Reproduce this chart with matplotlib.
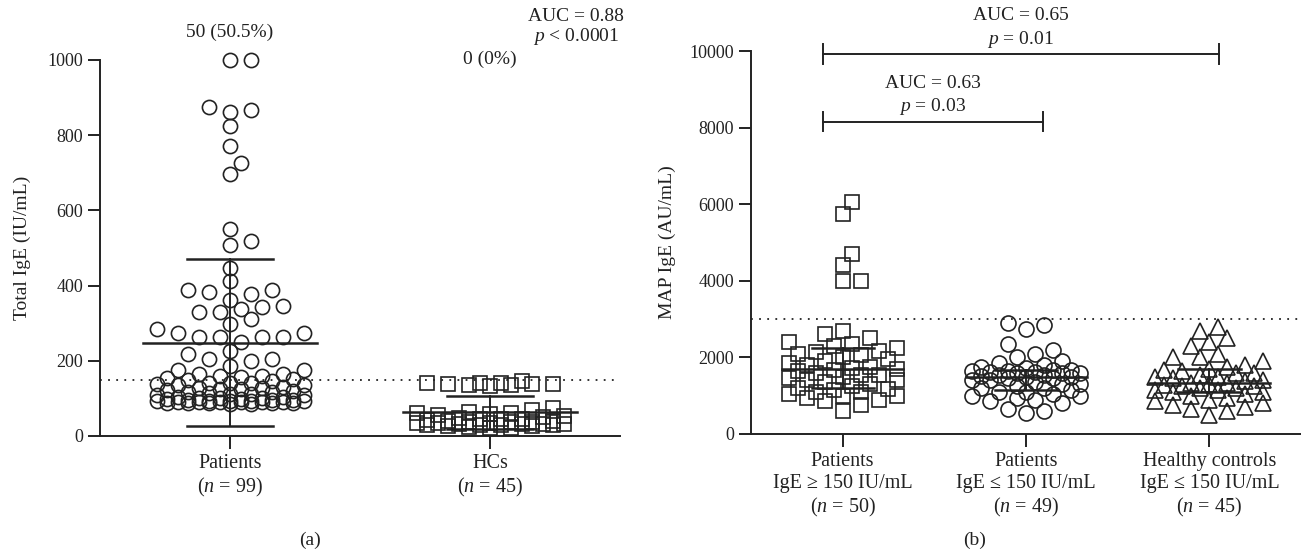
import numpy as np
import matplotlib.pyplot as plt

plt.rcParams['font.family'] = ['Liberation Serif', 'DejaVu Serif']
plt.rcParams['mathtext.fontset'] = 'custom'
plt.rcParams['mathtext.rm'] = 'Liberation Serif'
plt.rcParams['mathtext.it'] = 'Liberation Serif:italic'

INK = '#222222'

# (a) Total IgE, IU/mL
patients_ige = [1000, 1000, 875, 868, 862, 825, 772, 727, 697, 551, 519, 508,
                447, 411, 387, 387, 383, 378, 362, 347, 343, 338, 329, 329,
                311, 298, 285, 274, 274, 263, 263, 263, 263, 251, 227, 218,
                205, 205, 200, 187, 176, 176, 165, 165, 160, 160, 158, 155,
                152, 150,
                140, 138, 142, 135, 136, 145, 141,
                130, 128, 125, 122, 127, 124, 120,
                118, 115, 112, 110, 108, 113, 116, 105,
                102, 100, 98, 97, 99, 101, 96, 95, 103,
                94, 93, 92, 91, 90, 90, 89, 88, 92, 91, 87, 86, 85, 93, 90, 88,
                89, 91]
hcs_ige = [140, 138, 135, 142, 147, 136, 133, 139, 137, 141,
           75, 70, 65, 62, 60, 58, 55, 52, 50, 48, 46, 45, 44, 42, 40, 40,
           38, 37, 36, 35, 35, 34, 33, 32, 32, 31, 30, 30, 29, 28, 27, 26,
           25, 22, 20]
labels_a = ['Patients\n($n$ = 99)', 'HCs\n($n$ = 45)']
counts_a = ['50 (50.5%)', '0 (0%)']
cutoff_a = 150

# (b) MAP IgE, AU/mL
map_high = [6050, 5750, 4700, 4400, 4000, 4000,
            600, 750, 850, 900, 950, 1000, 1000, 1050, 1100, 1100, 1150, 1180,
            1200, 1250, 1300, 1350, 1400, 1400, 1450, 1500, 1550, 1550, 1600,
            1650, 1680,
            1700, 1720, 1750, 1800, 1850, 1900, 1950, 2000, 2050, 2100, 2150,
            2180,
            2250, 2300, 2350, 2400, 2500, 2600, 2700]
map_low = [550, 600, 650, 800, 850, 900, 950, 1000, 1000, 1050, 1100, 1100,
           1150, 1200, 1200, 1250, 1300, 1300, 1350, 1400, 1400, 1450, 1450,
           1480, 1500,
           1520, 1550, 1550, 1580, 1600, 1600, 1620, 1620, 1650, 1650, 1670,
           1680,
           1720, 1750, 1800, 1850, 1900, 2000, 2100, 2200, 2350, 2750, 2850,
           2900]
map_hc = [500, 600, 650, 700, 750, 800, 850, 900, 950, 1000, 1050,
          1100, 1100, 1150, 1150, 1200, 1200, 1250, 1250, 1280, 1300, 1320,
          1340,
          1380, 1400, 1450, 1500, 1500, 1550, 1600, 1600, 1650, 1680, 1700,
          1750, 1800, 1900, 2000, 2000, 2100, 2300, 2400, 2500, 2700, 2800]
labels_b = ['Patients\nIgE ≥ 150 IU/mL\n($n$ = 50)',
            'Patients\nIgE ≤ 150 IU/mL\n($n$ = 49)',
            'Healthy controls\nIgE ≤ 150 IU/mL\n($n$ = 45)']
cutoff_b = 3000


def swarm(values, ypx, xpx, step, diam, maxw):
    # simple beeswarm in pixel space, returns x offsets in data units
    vals = np.asarray(values, float)
    cands = [0.0]
    k = 1
    while k * step <= maxw:
        cands += [k * step, -k * step]
        k += 1
    placed = []
    off = np.zeros(len(vals))
    for i in np.argsort(vals):
        y = vals[i] * ypx
        best, best_d = 0.0, -1
        for c in cands:
            d = min((np.hypot(c - px, y - py) for px, py in placed), default=1e9)
            if d >= diam:
                best = c
                break
            if d > best_d:
                best_d, best = d, c
        off[i] = best
        placed.append((best, y))
    return off / xpx


def style(ax):
    for s in ['top', 'right']:
        ax.spines[s].set_visible(False)
    for s in ['left', 'bottom']:
        ax.spines[s].set_linewidth(1.4)
        ax.spines[s].set_color(INK)
    ax.tick_params(direction='out', length=9, width=1.4, color=INK,
                   labelsize=13, labelcolor=INK, pad=3)
    ax.tick_params(axis='x', labelsize=14.5, pad=4)


fig = plt.figure(figsize=(13.01, 5.54), dpi=100)

# ---------- panel (a): mean +/- SD
ax1 = fig.add_axes([100 / 1301, 1 - 436 / 554, 520 / 1301, 376 / 554])
style(ax1)
ax1.set_xlim(-0.5, 1.5)
ax1.set_ylim(0, 1000)
ypx_a = 376 / 1000
for i, (vals, mk, ms) in enumerate([(patients_ige, 'o', 10.2), (hcs_ige, 's', 9.6)]):
    off = swarm(vals, ypx_a, 260, 10.5, 13.5, 76)
    ax1.plot(i + off, vals, ls='none', marker=mk, ms=ms, mfc='none',
             mec=INK, mew=1.2, clip_on=False, zorder=3)
    m, sd = np.mean(vals), np.std(vals, ddof=1)
    ax1.plot([i - 0.335, i + 0.335], [m, m], color=INK, lw=1.8, zorder=4)
    for yy in (m - sd, m + sd):
        ax1.plot([i - 0.167, i + 0.167], [yy, yy], color=INK, lw=1.8, zorder=4)
    ax1.plot([i, i], [m - sd, m + sd], color=INK, lw=1.4, zorder=4)
ax1.axhline(cutoff_a, color=INK, ls=(0, (1, 3.5)), lw=1.3, xmax=0.99)
ax1.set_xticks([0, 1])
ax1.set_xticklabels(labels_a, linespacing=1.2)
ax1.set_yticks(range(0, 1001, 200))
ax1.set_ylabel('Total IgE (IU/mL)', fontsize=14, color=INK, labelpad=12)
ax1.text(0, 1073, counts_a[0], ha='center', va='center', fontsize=14, color=INK)
ax1.text(1, 1001, counts_a[1], ha='center', va='center', fontsize=14, color=INK)
ax1.text(1.33, 1115, 'AUC = 0.88', ha='center', va='center', fontsize=14, color=INK)
ax1.text(1.33, 1062, '$p$ < 0.0001', ha='center', va='center', fontsize=14, color=INK)

# ---------- panel (b): median with interquartile range
ax2 = fig.add_axes([751 / 1301, 1 - 434 / 554, 550 / 1301, 383 / 554])
style(ax2)
ax2.set_xlim(-0.5, 2.5)
ax2.set_ylim(0, 10000)
ypx_b = 383 / 10000
for i, (vals, mk, ms) in enumerate([(map_high, 's', 10.5), (map_low, 'o', 10.8),
                                    (map_hc, '^', 11)]):
    off = swarm(vals, ypx_b, 183, 9, 14, 58)
    ax2.plot(i + off, vals, ls='none', marker=mk, ms=ms, mfc='none',
             mec=INK, mew=1.2, clip_on=False, zorder=3)
    q1, med, q3 = np.percentile(vals, [25, 50, 75])
    ax2.plot([i - 0.33, i + 0.33], [med, med], color=INK, lw=1.8, zorder=4)
    for q in (q1, q3):
        ax2.plot([i - 0.17, i + 0.17], [q, q], color=INK, lw=1.8, zorder=4)
    ax2.plot([i, i], [q1, q3], color=INK, lw=1.4, zorder=4)
ax2.axhline(cutoff_b, color=INK, ls=(0, (1, 3.5)), lw=1.3)
ax2.set_xticks([0, 1, 2])
ax2.set_xticklabels(labels_b, linespacing=1.2)
ax2.set_yticks(range(0, 10001, 2000))
ax2.set_ylabel('MAP IgE (AU/mL)', fontsize=14, color=INK, labelpad=10)

# comparison brackets
for x0, x1, yb, auc, p in [(-0.11, 2.05, 9920, 'AUC = 0.65', '$p$ = 0.01'),
                           (-0.11, 1.09, 8150, 'AUC = 0.63', '$p$ = 0.03')]:
    ax2.plot([x0, x1], [yb, yb], color=INK, lw=1.4, clip_on=False)
    for xe in (x0, x1):
        ax2.plot([xe, xe], [yb - 250, yb + 250], color=INK, lw=1.4, clip_on=False)
    xm = (x0 + x1) / 2
    ax2.text(xm, yb + 1000, auc, ha='center', va='center', fontsize=14, color=INK)
    ax2.text(xm, yb + 390, p, ha='center', va='center', fontsize=14, color=INK)

fig.text(310 / 1301, 1 - 540 / 554, '(a)', ha='center', va='center', fontsize=14, color=INK)
fig.text(975 / 1301, 1 - 540 / 554, '(b)', ha='center', va='center', fontsize=14, color=INK)

fig.savefig('out.png', dpi=100)
